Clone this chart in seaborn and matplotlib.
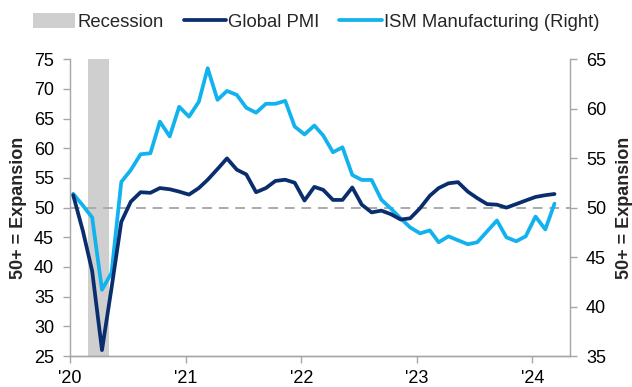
import matplotlib
matplotlib.use("Agg")
import matplotlib.pyplot as plt
from matplotlib.patches import Patch
from matplotlib.lines import Line2D
import seaborn as sns
import pandas as pd
import numpy as np

# monthly readings, Jan 2020 .. Mar 2024
global_pmi = [52.1, 46.0, 39.3, 26.0, 36.4, 47.6, 51.0, 52.6, 52.5, 53.3, 53.1, 52.7,
              52.2, 53.3, 54.7, 56.5, 58.3, 56.4, 55.6, 52.6, 53.3, 54.5, 54.7, 54.2,
              51.2, 53.5, 53.0, 51.3, 51.3, 53.4, 50.5, 49.2, 49.5, 48.9, 48.0, 48.2,
              49.9, 52.0, 53.3, 54.1, 54.3, 52.7, 51.6, 50.6, 50.5, 50.0, 50.6, 51.2,
              51.8, 52.1, 52.3]
ism_mfg = [51.4, 50.2, 49.0, 41.7, 43.4, 52.6, 53.8, 55.4, 55.5, 58.7, 57.2, 60.2,
           59.2, 60.7, 64.1, 60.9, 61.8, 61.4, 60.1, 59.6, 60.5, 60.5, 60.8, 58.2,
           57.4, 58.3, 57.3, 55.6, 56.1, 53.3, 52.8, 52.8, 50.8, 49.9, 48.9, 48.0,
           47.4, 47.7, 46.5, 47.1, 46.7, 46.3, 46.5, 47.6, 48.7, 47.0, 46.6, 47.1,
           49.1, 47.8, 50.4]
dates = pd.date_range("2020-01-01", periods=len(global_pmi), freq="MS") + pd.Timedelta(days=10)
year_ticks = pd.to_datetime(["2020-01-01", "2021-01-01", "2022-01-01", "2023-01-01", "2024-01-01"])
year_labels = ["'20", "'21", "'22", "'23", "'24"]
recession = (pd.Timestamp("2020-02-26"), pd.Timestamp("2020-05-04"))

df = pd.DataFrame({"date": dates, "Global PMI": global_pmi, "ISM": ism_mfg})

navy = "#0A2D6E"
sky = "#12B2EE"
grey_rec = "#D0CFCF"
spine_c = "#A6A6A6"

sns.set_style("ticks")
plt.rcParams["font.family"] = ["Liberation Sans", "DejaVu Sans"]

fig, ax = plt.subplots(figsize=(6.32, 3.87), dpi=100)
fig.subplots_adjust(left=0.1108, right=0.9019, bottom=0.0801, top=0.8468)
ax2 = ax.twinx()

# shading and the right-axis line live on the back axes, Global PMI on top
ax2.axvspan(recession[0], recession[1], color=grey_rec, lw=0, zorder=0)
ax2.axhline(50, color="#AAAAAA", lw=1.4, ls=(0, (5, 3.5)), zorder=1)
sns.lineplot(data=df, x="date", y="ISM", ax=ax2, color=sky, lw=2.7, zorder=2)
sns.lineplot(data=df, x="date", y="Global PMI", ax=ax, color=navy, lw=2.7, zorder=3)

ax.set_zorder(ax2.get_zorder() + 1)
ax.patch.set_visible(False)

ax.set_ylim(25, 75)
ax.set_yticks(np.arange(25, 76, 5))
ax2.set_ylim(35, 65)
ax2.set_yticks(np.arange(35, 66, 5))
ax.set_xlim(pd.Timestamp("2020-01-01"), pd.Timestamp("2024-04-29"))
ax.set_xticks(year_ticks)
ax.set_xticklabels(year_labels)
ax.set_xlabel("")
ax2.set_xlabel("")

for a in (ax, ax2):
    for s in a.spines.values():
        s.set_color(spine_c)
        s.set_linewidth(1.0)
    a.spines["top"].set_visible(False)
    a.tick_params(colors=spine_c, labelcolor="black", labelsize=13, length=5, width=1.0, pad=6.5)
ax.spines["right"].set_visible(False)
ax2.spines["left"].set_visible(False)
ax.tick_params(axis="x", pad=5)

ax.set_ylabel("50+ = Expansion", fontsize=13, fontweight="bold")
ax2.set_ylabel("50+ = Expansion", fontsize=13, fontweight="bold")
ax.yaxis.set_label_coords(-0.086, 0.5)
ax2.yaxis.set_label_coords(1.092, 0.5)

handles = [Patch(facecolor=grey_rec, edgecolor="none"),
           Line2D([], [], color=navy, lw=2.7),
           Line2D([], [], color=sky, lw=2.7)]
labels = ["Recession", "Global PMI", "ISM Manufacturing (Right)"]
fig.legend(handles, labels, loc="center", bbox_to_anchor=(0.5, 1 - 22 / 387), ncol=3,
           frameon=False, fontsize=13.3, handlelength=2.3, handleheight=0.9,
           handletextpad=0.1, columnspacing=1.1, borderaxespad=0)

fig.savefig("out.png", dpi=100)
